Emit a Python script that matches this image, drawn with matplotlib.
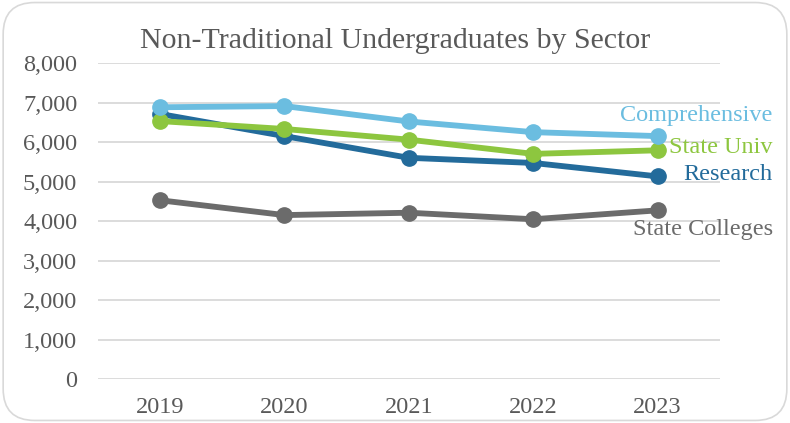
import matplotlib.pyplot as plt
from matplotlib.patches import FancyBboxPatch

years = ['2019', '2020', '2021', '2022', '2023']
comprehensive = [6880, 6910, 6520, 6250, 6150]
state_univ = [6530, 6330, 6060, 5700, 5790]
research = [6710, 6150, 5600, 5470, 5130]
state_colleges = [4525, 4150, 4210, 4045, 4270]

# name, values, colour, label offset (points) from the last point, draw order
series = [
    ('Comprehensive', comprehensive, '#6bbde0', (83, 15), 4),
    ('State Univ', state_univ, '#8dc63f', (83, 2), 3),
    ('Research', research, '#236b9b', (83, 1), 2),
    ('State Colleges', state_colleges, '#6b6b6b', (83, -14), 2),
]

plt.rcParams['font.family'] = ['Liberation Serif', 'DejaVu Serif']

fig = plt.figure(figsize=(7.9, 4.23), dpi=100)
ax = fig.add_axes([0.124, 0.104, 0.787, 0.747])

# rounded chart border
border = FancyBboxPatch((0.004, 0.006), 0.992, 0.988, boxstyle='round,pad=0,rounding_size=0.04',
                        transform=fig.transFigure, facecolor='white', edgecolor='#d9d9d9',
                        linewidth=1.2, mutation_aspect=790 / 423, zorder=-10)
fig.patches.append(border)

x = range(len(years))
for name, vals, color, off, z in series:
    ax.plot(x, vals, color=color, linewidth=4.2, marker='o', markersize=11,
            solid_capstyle='round', zorder=z)
    ax.annotate(name, xy=(x[-1], vals[-1]), xytext=off, textcoords='offset points',
                ha='right', va='center', color=color, fontsize=17.5, zorder=5)

ax.set_xlim(-0.5, 4.5)
ax.set_ylim(0, 8000)
ax.set_yticks(range(0, 8001, 1000))
ax.set_yticklabels([f'{v:,}' for v in range(0, 8001, 1000)])
ax.set_xticks(list(x))
ax.set_xticklabels(years)
ax.tick_params(length=0, labelsize=17.5, colors='#595959')
ax.tick_params(axis='x', pad=13)
ax.tick_params(axis='y', pad=15)
ax.grid(axis='y', color='#d9d9d9', linewidth=1.3)
ax.set_axisbelow(True)
for s in ax.spines.values():
    s.set_visible(False)

fig.text(0.5, 0.902, 'Non-Traditional Undergraduates by Sector', ha='center', va='center',
         fontsize=21.5, color='#595959')

fig.savefig('out.png', dpi=100)
